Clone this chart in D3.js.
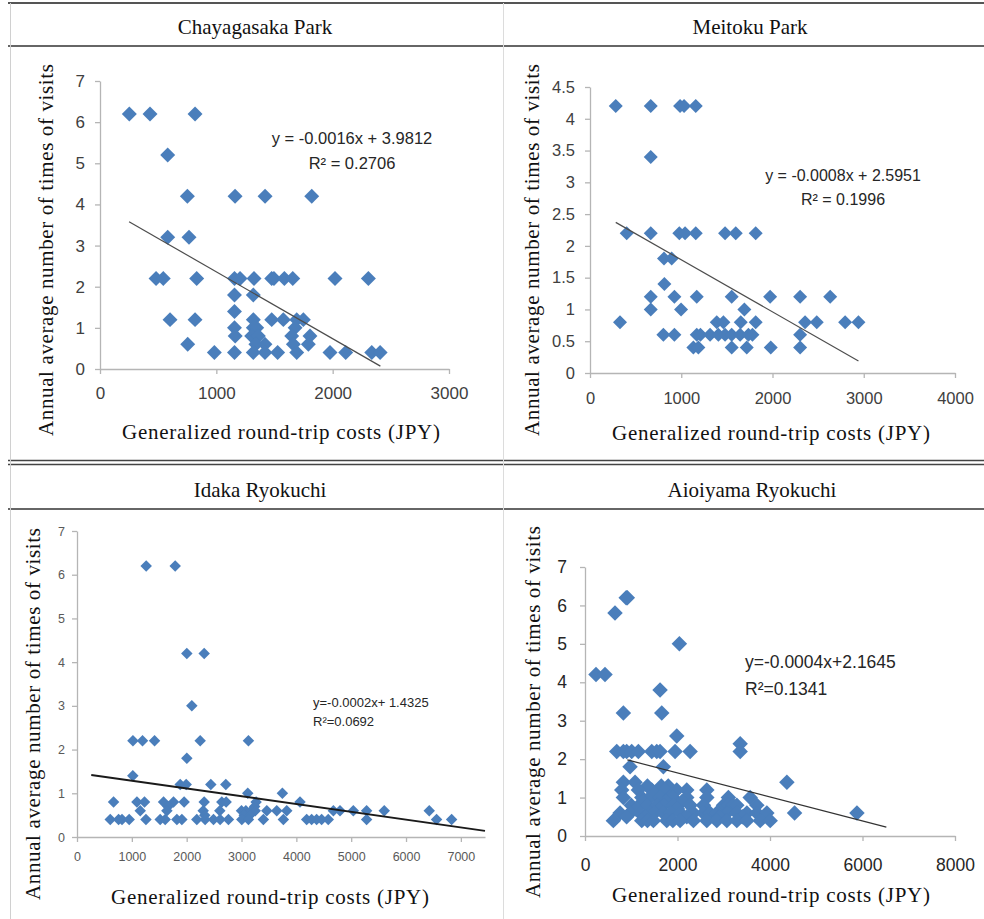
<!DOCTYPE html>
<html>
<head>
<meta charset="utf-8">
<script src="https://cdn.jsdelivr.net/npm/d3@7"></script>
<style>
  body { margin: 0; background: #fff; }
  svg { display: block; }
</style>
</head>
<body>
<div id="drawing_region"></div>
<script>
// park names (panel titles)
const parkNames = ["Chayagasaka Park", "Meitoku Park", "Idaka Ryokuchi", "Aioiyama Ryokuchi"];

// [generalized round-trip cost (JPY), annual visits]
const chayagasakaPoints = [
    [252,6.2],[430,6.2],[817,6.2],
    [582,5.2],
    [751,4.2],[1161,4.2],[1419,4.2],[1820,4.2],
    [582,3.2],[765,3.2],
    [482,2.2],[544,2.2],[831,2.2],[1156,2.2],[1204,2.2],[1324,2.2],[1476,2.2],[1495,2.2],[1585,2.2],[1657,2.2],[2020,2.2],[2307,2.2],
    [1156,1.8],[1318,1.8],
    [1156,1.4],
    [602,1.2],[817,1.2],[1318,1.2],[1476,1.2],[1576,1.2],[1691,1.2],[1748,1.2],
    [1156,1.0],[1318,1.0],[1347,1.0],[1677,1.0],
    [1162,0.8],[1304,0.8],[1361,0.8],[1648,0.8],[1805,0.8],
    [754,0.6],[1340,0.6],[1418,0.6],[1662,0.6],[1791,0.6],
    [983,0.4],[1156,0.4],[1318,0.4],[1418,0.4],[1527,0.4],[1691,0.4],[1977,0.4],[2112,0.4],[2336,0.4],[2408,0.4]
];

const meitokuPoints = [
    [282,4.2],[666,4.2],[987,4.2],[1031,4.2],[1159,4.2],
    [666,3.4],
    [402,2.2],[666,2.2],[979,2.2],[1042,2.2],[1159,2.2],[1480,2.2],[1597,2.2],[1816,2.2],
    [811,1.8],[895,1.8],
    [815,1.4],
    [666,1.2],[925,1.2],[1170,1.2],[1553,1.2],[1974,1.2],[2303,1.2],[2632,1.2],
    [666,1.0],[998,1.0],[1692,1.0],
    [329,0.8],[1389,0.8],[1462,0.8],[1652,0.8],[1816,0.8],[2357,0.8],[2485,0.8],[2796,0.8],[2942,0.8],
    [804,0.6],[925,0.6],[1170,0.6],[1210,0.6],[1316,0.6],[1407,0.6],[1480,0.6],[1553,0.6],[1645,0.6],[1736,0.6],[1780,0.6],[2303,0.6],
    [1133,0.4],[1188,0.4],[1553,0.4],[1718,0.4],[1981,0.4],[2303,0.4]
];

const idakaPoints = [
    [1262,6.2],[1791,6.2],
    [2003,4.2],[2319,4.2],
    [2094,3.0],
    [1020,2.2],[1195,2.2],[1414,2.2],[2246,2.2],[3126,2.2],
    [2003,1.8],
    [1018,1.4],
    [1882,1.2],[1991,1.2],[2440,1.2],[2714,1.2],
    [3114,1.0],[3745,1.0],
    [667,0.8],[1093,0.8],[1231,0.8],[1578,0.8],[1760,0.8],[1954,0.8],[2319,0.8],[2641,0.8],[2720,0.8],[3266,0.8],[4067,0.8],
    [1660,0.7],[3240,0.7],
    [1153,0.6],[1639,0.6],[2301,0.6],[2604,0.6],[3000,0.6],[3080,0.6],[3180,0.6],[3250,0.6],[3461,0.6],[3643,0.6],[3825,0.6],
    [4675,0.6],[4796,0.6],[5039,0.6],[5281,0.6],[5603,0.6],[6423,0.6],
    [2330,0.5],[3050,0.5],[3150,0.5],
    [606,0.4],[758,0.4],[821,0.4],[952,0.4],[1257,0.4],[1517,0.4],[1608,0.4],[1821,0.4],[1912,0.4],[2185,0.4],[2337,0.4],
    [2489,0.4],[2610,0.4],[2762,0.4],[3005,0.4],[3126,0.4],[3399,0.4],[3763,0.4],[4188,0.4],[4279,0.4],[4370,0.4],[4461,0.4],
    [4582,0.4],[5281,0.4],[6557,0.4],[6831,0.4]
];

const aioiyamaPoints = [
    [890,6.2],[915,6.2],
    [649,5.8],
    [2041,5.0],
    [238,4.2],[433,4.2],
    [1623,3.8],
    [830,3.2],[1660,3.2],
    [1984,2.6],
    [3355,2.4],
    [686,2.2],[830,2.2],[902,2.2],[1010,2.2],[1154,2.2],[1443,2.2],[1551,2.2],[1623,2.2],[1948,2.2],[2273,2.2],[3355,2.2],
    [974,1.8],[1695,1.8],
    [830,1.4],[1082,1.4],[4365,1.4],
    [1350,1.3],[1650,1.3],[1800,1.3],
    [794,1.2],[1154,1.2],[1443,1.2],[1732,1.2],[1984,1.2],[2200,1.2],[2634,1.2],
    [1500,1.1],
    [830,1.0],[1227,1.0],[1400,1.0],[1623,1.0],[1840,1.0],[1900,1.0],[2200,1.0],[2634,1.0],[3100,1.0],[3571,1.0],
    [1250,0.9],[1750,0.9],[2100,0.9],
    [1000,0.8],[1335,0.8],[1551,0.8],[1700,0.8],[1912,0.8],[2273,0.8],[2561,0.8],[2994,0.8],[3100,0.8],[3200,0.8],[3283,0.8],[3716,0.8],
    [1100,0.7],[1600,0.7],[2000,0.7],
    [758,0.6],[974,0.6],[1190,0.6],[1407,0.6],[1500,0.6],[1695,0.6],[1850,0.6],[2056,0.6],[2345,0.6],[2561,0.6],[2700,0.6],
    [2850,0.6],[3067,0.6],[3283,0.6],[3500,0.6],[3716,0.6],[3932,0.6],[4531,0.6],[5880,0.6],
    [900,0.5],[1300,0.5],[2200,0.5],[2900,0.5],[3400,0.5],
    [613,0.4],[1227,0.4],[1350,0.4],[1479,0.4],[1768,0.4],[1900,0.4],[2056,0.4],[2345,0.4],[2634,0.4],[2850,0.4],
    [3067,0.4],[3283,0.4],[3500,0.4],[3788,0.4],[4004,0.4]
];

// fitted lines as drawn: [x start, y start, x end, y end]
const trendLines = [
    [250, 3.58, 2410, 0.07],
    [282, 2.37, 2942, 0.19],
    [260, 1.42, 7440, 0.14],
    [916, 1.98, 6515, 0.23]
];

// equation labels
const equations = [
    ["y = -0.0016x + 3.9812", "R² = 0.2706"],
    ["y = -0.0008x + 2.5951", "R² = 0.1996"],
    ["y=-0.0002x+ 1.4325", "R²=0.0692"],
    ["y=-0.0004x+2.1645", "R²=0.1341"]
];

// axis ticks
const xTicks = [
    [0, 1000, 2000, 3000],
    [0, 1000, 2000, 3000, 4000],
    [0, 1000, 2000, 3000, 4000, 5000, 6000, 7000],
    [0, 2000, 4000, 6000, 8000]
];
const yTicks = [
    [0, 1, 2, 3, 4, 5, 6, 7],
    [0, 0.5, 1, 1.5, 2, 2.5, 3, 3.5, 4, 4.5],
    [0, 1, 2, 3, 4, 5, 6, 7],
    [0, 1, 2, 3, 4, 5, 6, 7]
];
const xMax = [3000, 4000, 7440, 8000];
const yMax = [7, 4.5, 7, 7];

const xTitle = "Generalized round-trip costs (JPY)";
const yTitle = "Annual average number of times of visits";

// panel layout
const layouts = [
    { x: [100, 449], y: [369, 81], title: [255, 27], ylab: [46, 250], xlab: [281, 432],
      tickFont: 17, xPad: 13, yPad: 10, eq: [352, 138, 163], eqAnchor: 'middle', eqFont: 16.5,
      mark: 112, tickColor: '#404040', lineW: 1.2, lineColor: '#4d4d4d' },
    { x: [590, 955], y: [373, 87], title: [750, 27], ylab: [532, 250], xlab: [771, 433],
      tickFont: 16.5, xPad: 14, yPad: 10, eq: [843, 175, 199], eqAnchor: 'middle', eqFont: 16,
      mark: 98, tickColor: '#404040', lineW: 1.2, lineColor: '#4d4d4d' },
    { x: [77, 485], y: [837, 531], title: [260, 490], ylab: [33, 714], xlab: [270, 897],
      tickFont: 12.5, xPad: 10, yPad: 7, eq: [313, 702, 721], eqAnchor: 'start', eqFont: 13,
      mark: 66, tickColor: '#595959', lineW: 2, lineColor: '#1a1a1a' },
    { x: [585, 955], y: [836, 567], title: [752, 490], ylab: [533, 712], xlab: [771, 895],
      tickFont: 17.5, xPad: 18, yPad: 13, eq: [745, 662, 689], eqAnchor: 'start', eqFont: 17.5,
      mark: 120, tickColor: '#262626', lineW: 1.2, lineColor: '#333333' }
];

const allPoints = [chayagasakaPoints, meitokuPoints, idakaPoints, aioiyamaPoints];

const svg = d3.select('#drawing_region')
    .append('svg')
    .attr('width', 984)
    .attr('height', 919);

svg.append('rect').attr('width', 984).attr('height', 919).attr('fill', '#fff');

// table rules
const table = svg.append('g').attr('fill', 'none');
table.append('line').attr('x1', 8).attr('x2', 984).attr('y1', 3).attr('y2', 3)
    .attr('stroke', '#555').attr('stroke-width', 2);
table.append('line').attr('x1', 8).attr('x2', 984).attr('y1', 46).attr('y2', 46)
    .attr('stroke', '#333').attr('stroke-width', 1.5);
table.append('line').attr('x1', 8).attr('x2', 984).attr('y1', 460.5).attr('y2', 460.5)
    .attr('stroke', '#444').attr('stroke-width', 1.3);
table.append('line').attr('x1', 8).attr('x2', 984).attr('y1', 464.5).attr('y2', 464.5)
    .attr('stroke', '#444').attr('stroke-width', 1.3);
table.append('line').attr('x1', 8).attr('x2', 984).attr('y1', 509).attr('y2', 509)
    .attr('stroke', '#333').attr('stroke-width', 1.5);
table.append('line').attr('x1', 10.5).attr('x2', 10.5).attr('y1', 3).attr('y2', 919)
    .attr('stroke', '#d0d0d0').attr('stroke-width', 1);
table.append('line').attr('x1', 503.5).attr('x2', 503.5).attr('y1', 3).attr('y2', 919)
    .attr('stroke', '#dcdcdc').attr('stroke-width', 1);

function drawPanel(i) {
    const L = layouts[i];
    const g = svg.append('g');

    const xscale = d3.scaleLinear().domain([0, xMax[i]]).range(L.x);
    const yscale = d3.scaleLinear().domain([0, yMax[i]]).range(L.y);

    // title
    g.append('text')
        .attr('x', L.title[0]).attr('y', L.title[1])
        .attr('text-anchor', 'middle')
        .attr('dominant-baseline', 'central')
        .style('font-family', '"Liberation Serif", "Times New Roman", serif')
        .style('font-size', '21px')
        .attr('fill', '#111')
        .text(parkNames[i]);

    // axes
    const xaxis = d3.axisBottom(xscale)
        .tickValues(xTicks[i])
        .tickSizeInner(5).tickSizeOuter(0)
        .tickPadding(L.xPad)
        .tickFormat(d3.format('d'));
    const yaxis = d3.axisLeft(yscale)
        .tickValues(yTicks[i])
        .tickSizeInner(5).tickSizeOuter(0)
        .tickPadding(L.yPad)
        .tickFormat(d => d);

    const xg = g.append('g')
        .attr('transform', `translate(0, ${L.y[0]})`)
        .call(xaxis);
    const yg = g.append('g')
        .attr('transform', `translate(${L.x[0]}, 0)`)
        .call(yaxis);

    [xg, yg].forEach(a => {
        a.select('.domain').attr('stroke', '#b5b5b5').attr('stroke-width', 1.3);
        a.selectAll('.tick line').attr('stroke', '#b5b5b5').attr('stroke-width', 1.3);
        a.selectAll('.tick text')
            .attr('fill', L.tickColor)
            .style('font-family', '"Liberation Sans", Arial, sans-serif')
            .style('font-size', L.tickFont + 'px');
    });

    // points
    const diamond = d3.symbol().type(d3.symbolSquare).size(L.mark);
    g.append('g').selectAll('path')
        .data(allPoints[i])
        .join('path')
        .attr('d', diamond)
        .attr('transform', d => `translate(${xscale(d[0])}, ${yscale(d[1])}) rotate(45)`)
        .attr('fill', '#4a7ebb');

    // trend line
    const t = trendLines[i];
    g.append('line')
        .attr('x1', xscale(t[0])).attr('y1', yscale(t[1]))
        .attr('x2', xscale(t[2])).attr('y2', yscale(t[3]))
        .attr('stroke', L.lineColor)
        .attr('stroke-width', L.lineW);

    // equation
    equations[i].forEach((s, k) => {
        g.append('text')
            .attr('x', L.eq[0]).attr('y', L.eq[1 + k])
            .attr('text-anchor', L.eqAnchor)
            .attr('dominant-baseline', 'central')
            .style('font-family', '"Liberation Sans", Arial, sans-serif')
            .style('font-size', L.eqFont + 'px')
            .attr('fill', '#262626')
            .text(s);
    });

    // axis titles
    g.append('text')
        .attr('x', L.xlab[0]).attr('y', L.xlab[1])
        .attr('text-anchor', 'middle')
        .attr('dominant-baseline', 'central')
        .attr('textLength', 318)
        .attr('lengthAdjust', 'spacing')
        .style('font-family', '"Liberation Serif", "Times New Roman", serif')
        .style('font-size', '21px')
        .attr('fill', '#111')
        .text(xTitle);

    g.append('text')
        .attr('transform', `translate(${L.ylab[0]}, ${L.ylab[1]}) rotate(-90)`)
        .attr('text-anchor', 'middle')
        .attr('dominant-baseline', 'central')
        .attr('textLength', 372)
        .attr('lengthAdjust', 'spacing')
        .style('font-family', '"Liberation Serif", "Times New Roman", serif')
        .style('font-size', '21px')
        .attr('fill', '#111')
        .text(yTitle);
}

for (let i = 0; i < 4; i++) drawPanel(i);
</script>
</body>
</html>
